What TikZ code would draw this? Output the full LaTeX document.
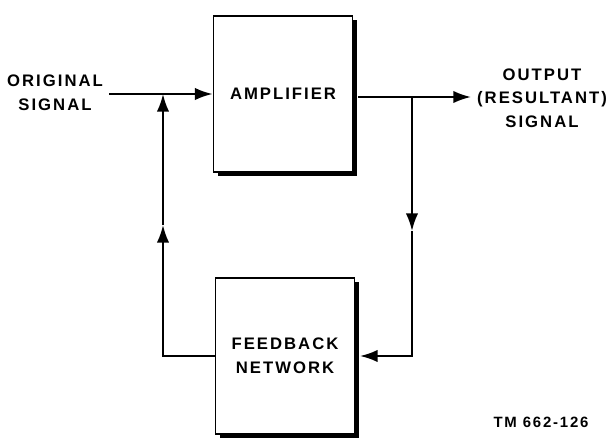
\documentclass[tikz,border=0pt]{standalone}
\usepackage{fontspec}
\setmainfont{Liberation Sans}
\newfontfamily\lettering[LetterSpace=12]{Liberation Sans}
\usetikzlibrary{shadows,arrows.meta}

\begin{document}
\begin{tikzpicture}[
    x=0.02cm, y=-0.02cm,
    blk/.style={rectangle, draw, line width=1.1pt, fill=white, minimum width=2.78cm, minimum height=3.12cm,
        font=\lettering\fontsize{9.5}{13.5}\selectfont\bfseries, align=center,
        drop shadow={shadow xshift=2.6pt, shadow yshift=-2.2pt, opacity=1, fill=black}},
    lbl/.style={font=\lettering\fontsize{9.5}{13.5}\selectfont\bfseries, align=center},
    link/.style={-{Latex[length=10pt,width=7pt]}, line width=1.1pt}
]
\useasboundingbox (0,0) rectangle (609,439);

% Blocks
\node[blk] (amp) at (283,94) {AMPLIFIER};
\node[blk] (fbk) at (285,356) {FEEDBACK\\NETWORK};

% Signals
\node[lbl] (src) at (55,93) {ORIGINAL\\SIGNAL};
\node[lbl] (out) at (542,98) {OUTPUT\\(RESULTANT)\\SIGNAL};
\node[font=\lettering\fontsize{8.5}{10}\selectfont\bfseries] (tm) at (541,422) {TM 662-126};

% Junctions
\coordinate (jin) at (163,94);
\coordinate (jout) at (412,97);
\coordinate (lup) at (163,225);
\coordinate (rdn) at (412,231);

% Connexions
\draw[link] (src.east |- amp.west) -- (amp.west);
\draw[link] (amp.east |- jout) ++(2.6pt,0) -- (out.west |- jout);
\draw[link] (fbk.west) -| (lup);
\draw[link] (lup) -- (jin);
\draw[link] (jout) -- (rdn);
\draw[link] (rdn) |- ([xshift=2.6pt]fbk.east);

\end{tikzpicture}
\end{document}
